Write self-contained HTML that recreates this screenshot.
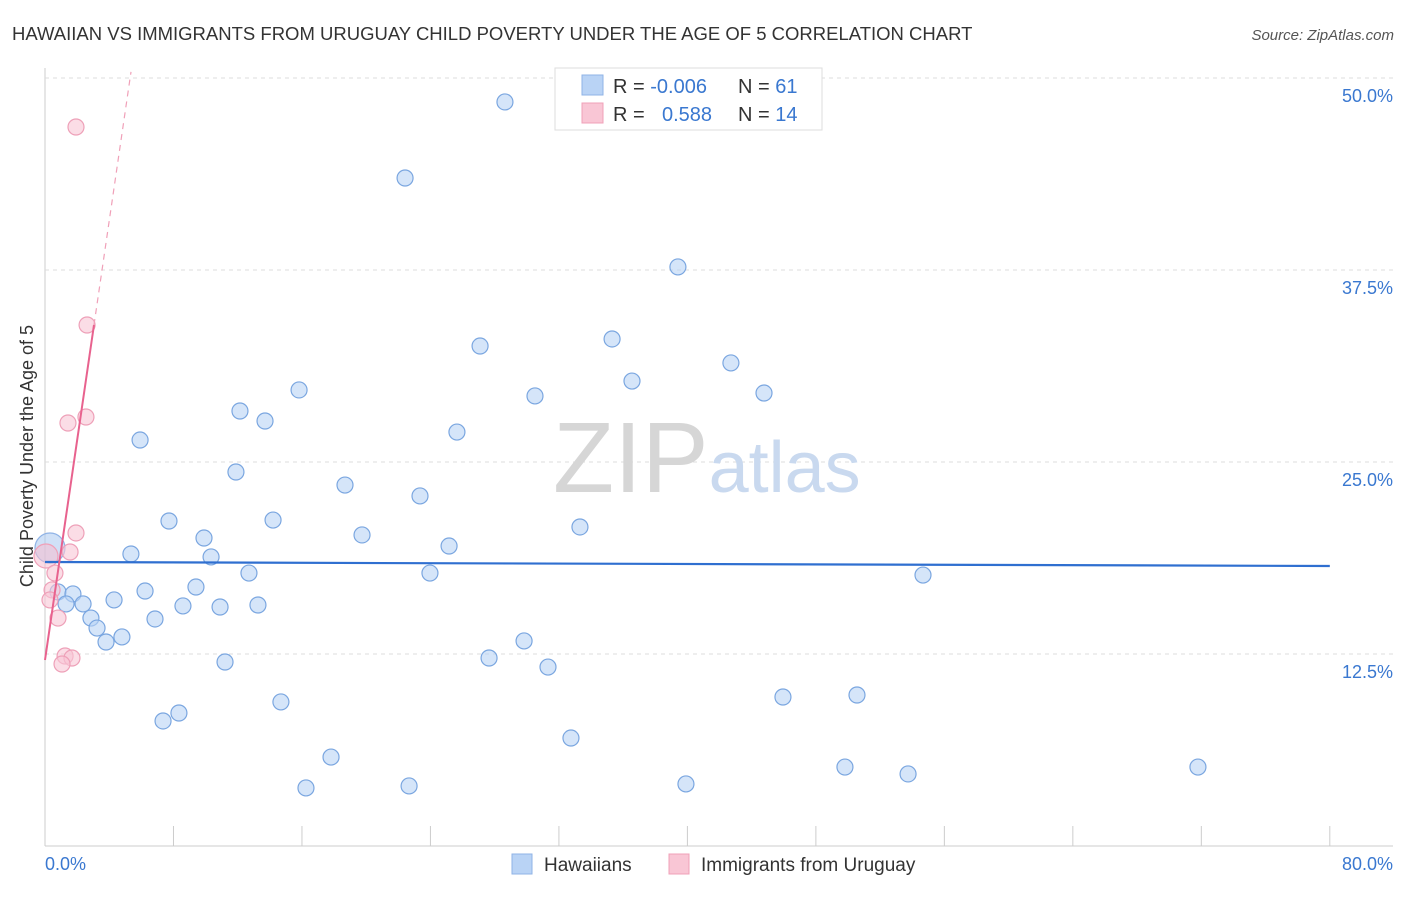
<!DOCTYPE html>
<html><head><meta charset="utf-8">
<style>
body{margin:0;background:#fff;font-family:"Liberation Sans",sans-serif;}
svg text{font-family:"Liberation Sans",sans-serif;}
</style></head>
<body>
<svg id="chart" width="1406" height="892" xmlns="http://www.w3.org/2000/svg">
<text x="12" y="40" font-size="18.5" fill="#333">HAWAIIAN VS IMMIGRANTS FROM URUGUAY CHILD POVERTY UNDER THE AGE OF 5 CORRELATION CHART</text>
<text x="1394" y="40" font-size="15" fill="#555" text-anchor="end" font-style="italic">Source: ZipAtlas.com</text>
<g id="grid"></g>
<text x="553" y="492" font-size="100" fill="#ddd" font-family="Liberation Serif"><tspan fill="#d6d6d6">ZIP</tspan><tspan fill="#c9d9ef" font-family="Liberation Sans" font-size="72">atlas</tspan></text>
<text transform="translate(33,456) rotate(-90)" font-size="18" fill="#333" text-anchor="middle">Child Poverty Under the Age of 5</text>
<g id="points"></g>
<g id="trends"></g>
<g>
<rect x="555" y="68" width="267" height="62" fill="#fff" stroke="#ddd"/>
<rect x="582" y="75" width="21" height="20" fill="#b9d3f5" stroke="#8fb3e6"/>
<rect x="582" y="103" width="21" height="20" fill="#f9c6d5" stroke="#f0a0b8"/>
<text x="613" y="93" font-size="20" fill="#333">R = <tspan fill="#3a78d0">-0.006</tspan></text>
<text x="738" y="93" font-size="20" fill="#333">N = <tspan fill="#3a78d0">61</tspan></text>
<text x="613" y="121" font-size="20" fill="#333">R = </text>
<text x="662" y="121" font-size="20" fill="#3a78d0">0.588</text>
<text x="738" y="121" font-size="20" fill="#333">N = <tspan fill="#3a78d0">14</tspan></text>
</g>
<g>
<rect x="512" y="854" width="20" height="20" fill="#b9d3f5" stroke="#8fb3e6"/>
<text x="544" y="871" font-size="19" fill="#333">Hawaiians</text>
<rect x="669" y="854" width="20" height="20" fill="#f9c6d5" stroke="#f0a0b8"/>
<text x="701" y="871" font-size="19" fill="#333">Immigrants from Uruguay</text>
</g>
</svg>
<script>
const xTicks=[0,8,16,24,32,40,48,56,64,72,80];
const yTicks=[12.5,25,37.5,50];
const yTickLabels=["12.5%","25.0%","37.5%","50.0%"];
const blueX=[28.64,22.42,39.41,35.31,27.09,15.82,42.71,36.55,30.51,44.77,12.14,13.70,5.92,25.65,11.89,18.68,23.35,7.72,14.20,33.31,19.74,9.90,25.16,5.35,10.34,23.97,54.67,12.70,9.40,6.23,0.81,1.74,4.30,1.31,2.37,8.59,10.90,13.26,6.85,2.86,3.24,4.79,3.80,29.83,27.65,11.21,31.32,45.95,50.56,14.69,8.34,7.35,32.75,17.81,49.81,53.74,71.79,16.25,22.67,39.91];
const blueY=[48.44,43.49,37.70,33.01,32.55,29.69,31.45,30.27,29.30,29.49,28.32,27.67,26.43,26.95,24.35,23.50,22.79,21.16,21.22,20.77,20.25,20.05,19.53,19.01,18.82,17.77,17.64,17.77,16.86,16.60,16.54,16.41,16.02,15.76,15.76,15.63,15.56,15.69,14.78,14.84,14.19,13.61,13.28,13.35,12.24,11.98,11.65,9.70,9.83,9.38,8.66,8.14,7.03,5.79,5.14,4.69,5.14,3.78,3.91,4.04];
const pinkX=[1.93,2.62,2.55,1.43,1.93,1.56,0.62,0.44,0.31,0.81,1.25,1.68,1.06];
const pinkY=[46.81,33.92,27.93,27.54,20.38,19.14,17.77,16.67,16.02,14.84,12.37,12.24,11.85];
const blueBig=[0.31,19.40];
const pinkBig=[0.06,18.88];
const blueTrend=[18.49,18.23];
const pinkTrend=[12.11,7.15];
const X=v=>45+v*16.06, Y=v=>846-v*15.36;
const NS="http://www.w3.org/2000/svg";
function mk(tag,attrs,parent){const e=document.createElementNS(NS,tag);for(const k in attrs)e.setAttribute(k,attrs[k]);document.getElementById(parent).appendChild(e);return e;}
let e;
e=mk('line',{x1:45,y1:68,x2:45,y2:846,stroke:'#ccc'},'grid');


e=mk('line',{x1:45,y1:846,x2:1393,y2:846,stroke:'#ccc'},'grid');


yTicks.forEach((t,i)=>{
 e=mk('line',{x1:45,y1:Y(t),x2:1393,y2:Y(t),stroke:'#ddd','stroke-dasharray':'4,4'},'grid');
 
 
 e=mk('text',{x:1393,y:Y(t)+24,'font-size':18,fill:'#3a78d0','text-anchor':'end'},'grid');
 e.textContent=yTickLabels[i];
 
 
});
xTicks.forEach(t=>{
 e=mk('line',{x1:X(t),y1:826,x2:X(t),y2:846,stroke:'#ccc'},'grid');
 
 
});
e=mk('text',{x:45,y:870,'font-size':18,fill:'#3a78d0'},'grid');e.textContent='0.0%';


e=mk('text',{x:1393,y:870,'font-size':18,fill:'#3a78d0','text-anchor':'end'},'grid');e.textContent='80.0%';


function dot(x,y,r,fill,stroke,name){
 e=mk('circle',{cx:X(x),cy:Y(y),r:r,fill:fill,stroke:stroke,'stroke-width':1.2},'points');
 
 
}
dot(blueBig[0],blueBig[1],15,'rgba(170,200,240,0.55)','#8fb3e6','hawaiian-point');
dot(pinkBig[0],pinkBig[1],12,'rgba(248,190,208,0.55)','#f0a0b8','uruguay-point');
blueX.forEach((x,i)=>dot(x,blueY[i],8,'rgba(185,211,245,0.6)','#7aa6e0','hawaiian-point'));
pinkX.forEach((x,i)=>dot(x,pinkY[i],8,'rgba(249,198,213,0.6)','#eea0b8','uruguay-point'));
e=mk('line',{x1:X(0),y1:Y(blueTrend[0]),x2:X(80),y2:Y(blueTrend[1]),stroke:'#2f6fd0','stroke-width':2.2},'trends');


const pEnd=3.05, dEnd=(50.4-pinkTrend[0])/pinkTrend[1];
e=mk('line',{x1:X(0),y1:Y(pinkTrend[0]),x2:X(pEnd),y2:Y(pinkTrend[0]+pinkTrend[1]*pEnd),stroke:'#e8628e','stroke-width':2},'trends');


e=mk('line',{x1:X(pEnd),y1:Y(pinkTrend[0]+pinkTrend[1]*pEnd),x2:X(dEnd),y2:Y(50.4),stroke:'#f0a0b8','stroke-width':1.2,'stroke-dasharray':'6,5'},'trends');


</script>
</body></html>
